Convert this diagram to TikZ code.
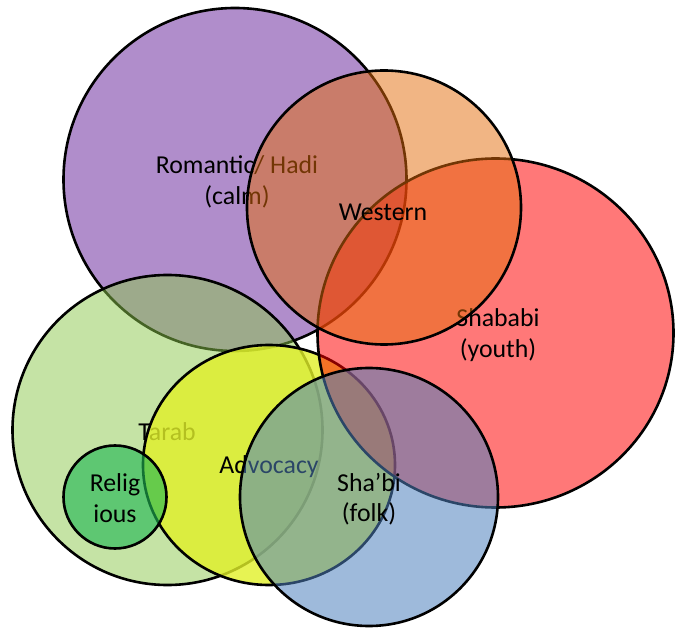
\documentclass[tikz,border=0pt]{standalone}
\usepackage{fontspec}
\setmainfont{Carlito}
\definecolor{purpleC}{RGB}{112,48,160}
\definecolor{redC}{RGB}{255,0,0}
\definecolor{orangeC}{RGB}{228,108,10}
\definecolor{tarabC}{RGB}{139,199,75}
\definecolor{yellowC}{RGB}{225,240,40}
\definecolor{relC}{RGB}{32,183,83}
\definecolor{blueC}{RGB}{79,129,189}
\tikzset{
  setshape/.style={draw=black, line width=2.6pt},
  lbl/.style={align=center, inner sep=0pt, font=\fontsize{25.8}{30.5}\selectfont, text=black}
}
\begin{document}
\begin{tikzpicture}[x=1pt,y=-1pt]
\useasboundingbox (0,0) rectangle (675,628);
% Romantic / Hadi
\path[setshape, fill=purpleC, fill opacity=0.55] (235,179.5) circle[radius=171.5pt];
\node[lbl] (romantic) at (237,182) {Romantic/ Hadi\\(calm)};
% Tarab
\path[setshape, fill=tarabC, fill opacity=0.5] (167.5,430) circle[radius=155pt];
\node[lbl] (tarab) at (167,432) {Tarab};
% Advocacy
\path[setshape, fill=yellowC, fill opacity=0.8] (269,465) ellipse[x radius=126pt, y radius=120pt];
\node[lbl] (advocacy) at (269,467) {Advocacy};
% Religious
\path[setshape, fill=relC, fill opacity=0.62] (115,497) circle[radius=51.5pt];
\node[lbl] (religious) at (115,498) {Relig\\ious};
% Shababi
\path[setshape, fill=redC, fill opacity=0.53] (495.5,333) ellipse[x radius=178pt, y radius=174.5pt];
\node[lbl] (shababi) at (498,335) {Shababi\\(youth)};
% Western
\path[setshape, fill=orangeC, fill opacity=0.5] (384,207.5) circle[radius=137pt];
\node[lbl] (western) at (383,212) {Western};
% Sha'bi
\path[setshape, fill=blueC, fill opacity=0.55] (369,497) circle[radius=129pt];
\node[lbl] (shabi) at (369,499) {Sha’bi\\(folk)};
\end{tikzpicture}
\end{document}
